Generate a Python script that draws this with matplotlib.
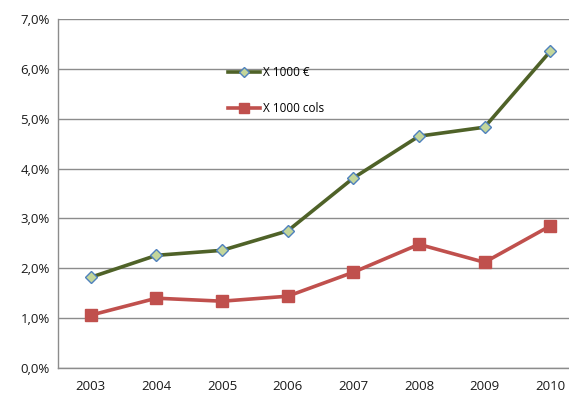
import matplotlib
matplotlib.use("Agg")
import matplotlib.pyplot as plt
from matplotlib.ticker import FuncFormatter

years = ["2003", "2004", "2005", "2006", "2007", "2008", "2009", "2010"]
euros = [1.82, 2.26, 2.36, 2.75, 3.81, 4.65, 4.83, 6.35]
cols = [1.06, 1.40, 1.34, 1.44, 1.92, 2.48, 2.12, 2.85]
series_labels = ["X 1000 €", "X 1000 cols"]

plt.rcParams['font.family'] = ['Open Sans', 'DejaVu Sans']

fig = plt.figure(figsize=(5.69, 3.99), dpi=100)
ax = fig.add_axes([58 / 569, 31 / 399, 525 / 569, 349 / 399])

x = range(len(years))
ax.plot(x, euros, color="#4F6228", lw=2.6, marker="D", ms=6.5,
        mfc="#C3D69B", mec="#4F81BD", mew=1.0, label=series_labels[0], zorder=3)
ax.plot(x, cols, color="#C0504D", lw=2.6, marker="s", ms=9,
        mfc="#C0504D", mec="#C0504D", label=series_labels[1], zorder=3)

ax.set_xlim(-0.5, len(years) - 0.5)
ax.set_ylim(0, 7)
ax.set_yticks(range(0, 8))
ax.yaxis.set_major_formatter(FuncFormatter(lambda v, p: f"{v:.1f}%".replace(".", ",")))
ax.set_xticks(list(x))
ax.set_xticklabels(years)
ax.grid(axis="y", color="#8C8C8C", lw=1.0)
ax.set_axisbelow(True)
for s in ["top", "right"]:
    ax.spines[s].set_visible(False)
for s in ["left", "bottom"]:
    ax.spines[s].set_color("#8C8C8C")
    ax.spines[s].set_linewidth(1.0)
ax.tick_params(axis="both", length=0, labelsize=9.5, colors="#1a1a1a", pad=6)
ax.tick_params(axis="x", pad=9)

leg = ax.legend(loc="upper left", bbox_to_anchor=(165 / 525, 1 - 42 / 349),
                frameon=False, fontsize=8.5, handlelength=2.7, handletextpad=0.3,
                labelspacing=2.0, borderaxespad=0, markerscale=0.75)

fig.savefig("out.png", dpi=100)
